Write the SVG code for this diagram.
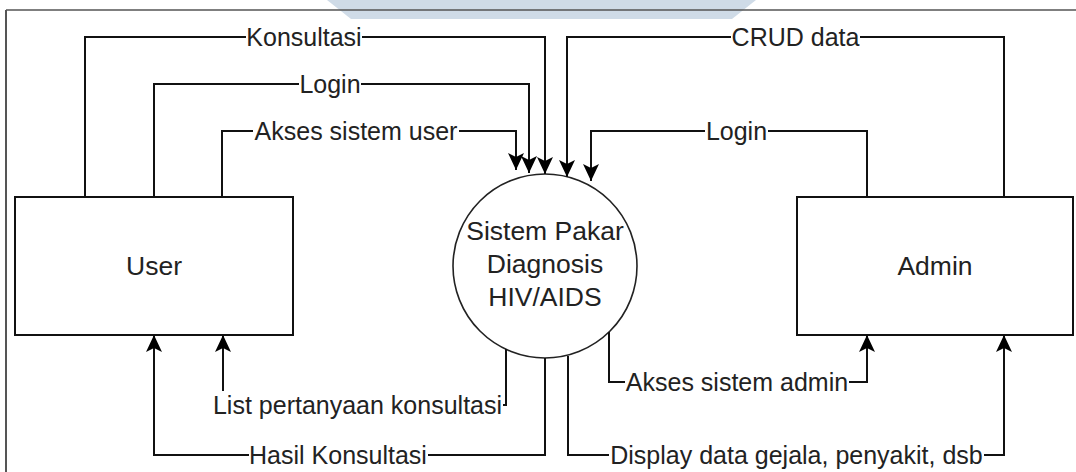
<svg xmlns="http://www.w3.org/2000/svg" width="1076" height="472" viewBox="0 0 1076 472">
  <defs>
    <marker id="arrow" viewBox="0 0 17 16" refX="17" refY="8" markerWidth="17" markerHeight="16" markerUnits="userSpaceOnUse" orient="auto">
      <path d="M0,0 L17,8 L0,16 L4,8 Z" fill="#000"/>
    </marker>
    <style>
      .frame { stroke: #555; fill: none; }
      .box { fill: #fff; stroke: #111; stroke-width: 2; }
      .proc { fill: #fff; stroke: #222; stroke-width: 1.6; }
      .flow { fill: none; stroke: #111; stroke-width: 2; marker-end: url(#arrow); }
      .lbl-bg { fill: #fff; }
      text { font-family: "Liberation Sans", Arial, sans-serif; font-size: 25px; fill: #222; text-anchor: middle; }
      .node-txt { font-size: 26.5px; }
    </style>
  </defs>

  <!-- page background and header band -->
  <rect x="0" y="0" width="1076" height="472" fill="#fff"/>
  <polygon points="327,0 756,0 732,19 351,19" fill="#cfdbe7"/>
  <line class="frame" x1="6" y1="10" x2="1076" y2="10" stroke-width="1.5"/>
  <line class="frame" x1="6" y1="10" x2="6" y2="472" stroke-width="2"/>

  <!-- external entities and process -->
  <g id="user">
    <rect class="box" x="15" y="197" width="278" height="138"/>
    <text class="node-txt" x="154" y="275">User</text>
  </g>
  <g id="admin">
    <rect class="box" x="797" y="197" width="276" height="138"/>
    <text class="node-txt" x="935" y="275">Admin</text>
  </g>
  <g id="sistem">
    <circle class="proc" cx="545" cy="266" r="92"/>
    <text class="node-txt" x="545" y="240">Sistem Pakar</text>
    <text class="node-txt" x="545" y="273">Diagnosis</text>
    <text class="node-txt" x="545" y="306">HIV/AIDS</text>
  </g>

  <!-- data flows -->
  <g id="connectors">
    <path class="flow" d="M85,197 V37 H545 V174"/>
    <path class="flow" d="M154,197 V84 H529 V173"/>
    <path class="flow" d="M222,197 V131 H516 V170"/>
    <path class="flow" d="M1004,197 V37 H567 V177"/>
    <path class="flow" d="M867,197 V131 H591 V181"/>
    <path class="flow" d="M609,332 V382 H867 V335"/>
    <path class="flow" d="M568,356 V455 H1004 V335"/>
    <path class="flow" d="M545,358 V455 H154 V335"/>
    <path class="flow" d="M506,349 V405 H223 V335"/>
  </g>

  <!-- flow labels -->
  <g id="labels">
    <rect class="lbl-bg" x="246" y="24" width="116" height="26"/>
    <text x="304" y="46">Konsultasi</text>
    <rect class="lbl-bg" x="299" y="71" width="62" height="26"/>
    <text x="330" y="93">Login</text>
    <rect class="lbl-bg" x="253" y="118" width="206" height="26"/>
    <text x="356" y="140">Akses sistem user</text>
    <rect class="lbl-bg" x="731" y="24" width="129" height="26"/>
    <text x="795.5" y="46">CRUD data</text>
    <rect class="lbl-bg" x="705" y="118" width="63" height="26"/>
    <text x="736.5" y="140">Login</text>
    <rect class="lbl-bg" x="625" y="369" width="224" height="26"/>
    <text x="737" y="391">Akses sistem admin</text>
    <rect class="lbl-bg" x="609" y="442" width="375" height="26"/>
    <text x="796.5" y="464">Display data gejala, penyakit, dsb</text>
    <rect class="lbl-bg" x="249" y="442" width="179" height="26"/>
    <text x="338" y="464">Hasil Konsultasi</text>
    <rect class="lbl-bg" x="212" y="391" width="291" height="28"/>
    <text x="357.5" y="414">List pertanyaan konsultasi</text>
  </g>
</svg>
